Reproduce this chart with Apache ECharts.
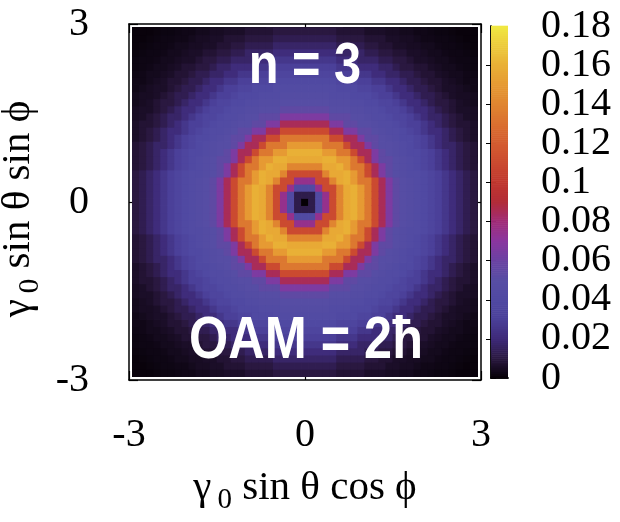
<!DOCTYPE html>
<html>
<head>
<meta charset="utf-8">
<script src="https://cdn.jsdelivr.net/npm/echarts@6/dist/echarts.min.js"></script>
<style>
  html, body { margin: 0; padding: 0; background: #ffffff; }
  #chart { width: 620px; height: 522px; }
</style>
</head>
<body>
<div id="chart"></div>
<script>
// Intensity per ring of cells, counted outward from the centre cell (ring 0).
const radialProfile = [
  0.000, 0.012, 0.042, 0.075, 0.110, 0.140, 0.157, 0.160, 0.150, 0.134,
  0.110, 0.085, 0.066, 0.054, 0.048, 0.045, 0.043, 0.040, 0.036, 0.031,
  0.026, 0.021, 0.017, 0.013, 0.010, 0.008, 0.006, 0.005, 0.004, 0.003,
  0.0025, 0.002, 0.0015, 0.001, 0.001, 0.0008, 0.0005
];
// Sample grid along each axis: -3 … 3 in steps of 0.12 (51 points).
const gridMin = -3;
const gridMax = 3;
const gridStep = 0.12;
const axisTicks = [-3, 0, 3];
const colorbarTicks = [0, 0.02, 0.04, 0.06, 0.08, 0.1, 0.12, 0.14, 0.16, 0.18];
// Palette, evenly spaced from 0 to 0.18.
const paletteColors = [
  '#050005', '#2a1840', '#3e2a78', '#4a3f98', '#5049a2', '#574ea4',
  '#6a42a2', '#8a36a0', '#a02c78', '#b22c38', '#c0372f', '#cb4a30',
  '#d45c30', '#da7030', '#e08530', '#e69a33', '#e9b036', '#edcb3c', '#f0e842'
];

const nPts = Math.round((gridMax - gridMin) / gridStep) + 1;
const centreIdx = (nPts - 1) / 2;
const heatData = [];
for (let i = 0; i < nPts; i++) {
  for (let j = 0; j < nPts; j++) {
    const ring = Math.round(Math.hypot(i - centreIdx, j - centreIdx));
    const v = radialProfile[Math.min(ring, radialProfile.length - 1)];
    heatData.push([gridMin + i * gridStep, gridMin + j * gridStep, v]);
  }
}

// Colour-scale strip: thin slices over the full value range.
const cbMin = colorbarTicks[0];
const cbMax = colorbarTicks[colorbarTicks.length - 1];
const cbInterval = colorbarTicks[1] - colorbarTicks[0];
const cbSlices = 180;
const cbStep = (cbMax - cbMin) / cbSlices;
const colorbarData = [];
for (let k = 0; k < cbSlices; k++) {
  const v = cbMin + (k + 0.5) * cbStep;
  colorbarData.push([0.5, v, v]);
}

const serif = 'Liberation Serif, Times New Roman, DejaVu Serif, serif';
const inset = 3;

function heatCell(params, api) {
  const x = api.value(0), y = api.value(1), h = gridStep / 2;
  const p0 = api.coord([x - h, y + h]);
  const p1 = api.coord([x + h, y - h]);
  const cs = params.coordSys;
  const rect = echarts.graphic.clipRectByRect(
    { x: p0[0] - 0.4, y: p0[1] - 0.4, width: p1[0] - p0[0] + 0.8, height: p1[1] - p0[1] + 0.8 },
    { x: cs.x + inset, y: cs.y + inset, width: cs.width - 2 * inset, height: cs.height - 2 * inset }
  );
  if (!rect) return;
  return { type: 'rect', shape: rect, style: { fill: api.visual('color') } };
}

function barSlice(params, api) {
  const v = api.value(1);
  const p0 = api.coord([0, v + cbStep / 2]);
  const p1 = api.coord([1, v - cbStep / 2]);
  return {
    type: 'rect',
    shape: { x: p0[0], y: p0[1] - 0.3, width: p1[0] - p0[0], height: p1[1] - p0[1] + 0.6 },
    style: { fill: api.visual('color') }
  };
}

const frameLine = { show: true, onZero: false, lineStyle: { color: '#000', width: 1.5 } };
const frameTick = { show: true, inside: true, length: 9, lineStyle: { color: '#000', width: 1.2 } };
const subRich = { s: { fontFamily: serif, fontSize: 29, padding: [24, 0, 0, 6], color: '#000' } };
const tickFont = { fontFamily: serif, fontSize: 40, color: '#000', lineHeight: 30 };
const cbLine = { show: true, lineStyle: { color: '#000', width: 1.5 } };
const cbTick = { show: true, inside: true, length: 5, lineStyle: { color: '#000', width: 1 } };

const option = {
  backgroundColor: '#ffffff',
  animation: false,
  grid: [
    { left: 129, top: 24, width: 352, height: 356, outerBoundsMode: 'none', containLabel: false },
    { left: 491, top: 26, width: 17, height: 352, outerBoundsMode: 'none', containLabel: false }
  ],
  visualMap: {
    type: 'continuous', show: false, min: cbMin, max: cbMax, dimension: 2,
    seriesIndex: [0, 1], inRange: { color: paletteColors }
  },
  xAxis: [
    {
      gridIndex: 0, type: 'value', position: 'bottom', min: gridMin, max: gridMax, interval: 3,
      axisLine: frameLine, splitLine: { show: false }, axisTick: frameTick,
      axisLabel: Object.assign({ margin: 40, showMinLabel: true, showMaxLabel: true }, tickFont),
      name: 'γ{s|0} sin θ cos ϕ', nameLocation: 'middle', nameGap: 82,
      nameTextStyle: { fontFamily: serif, fontSize: 41, color: '#000', rich: subRich }
    },
    {
      gridIndex: 0, type: 'value', position: 'top', min: gridMin, max: gridMax, interval: 3,
      axisLine: frameLine, splitLine: { show: false }, axisTick: frameTick,
      axisLabel: { show: false }
    },
    {
      gridIndex: 1, type: 'value', position: 'bottom', min: 0, max: 1,
      axisLine: cbLine, axisTick: { show: false }, axisLabel: { show: false }, splitLine: { show: false }
    },
    {
      gridIndex: 1, type: 'value', position: 'top', min: 0, max: 1,
      axisLine: cbLine, axisTick: { show: false }, axisLabel: { show: false }, splitLine: { show: false }
    }
  ],
  yAxis: [
    {
      gridIndex: 0, type: 'value', position: 'left', min: gridMin, max: gridMax, interval: 3,
      axisLine: frameLine, splitLine: { show: false }, axisTick: frameTick,
      axisLabel: Object.assign({ margin: 40, showMinLabel: true, showMaxLabel: true }, tickFont),
      name: 'γ{s|0} sin θ sin ϕ', nameLocation: 'middle', nameGap: 80,
      nameTextStyle: { fontFamily: serif, fontSize: 41, color: '#000', rich: subRich, padding: [0, 14, 0, 0] }
    },
    {
      gridIndex: 0, type: 'value', position: 'right', min: gridMin, max: gridMax, interval: 3,
      axisLine: frameLine, splitLine: { show: false }, axisTick: frameTick,
      axisLabel: { show: false }
    },
    // colour scale: inner tick labels (0.02 … 0.16)
    {
      gridIndex: 1, type: 'value', position: 'right', min: cbMin, max: cbMax, interval: cbInterval,
      axisLine: cbLine, splitLine: { show: false }, axisTick: cbTick,
      axisLabel: Object.assign({ margin: 33, showMinLabel: false, showMaxLabel: false }, tickFont)
    },
    {
      gridIndex: 1, type: 'value', position: 'left', min: cbMin, max: cbMax, interval: cbInterval,
      axisLine: cbLine, splitLine: { show: false }, axisTick: cbTick,
      axisLabel: { show: false }
    },
    // colour scale: end labels (0 and 0.18)
    {
      gridIndex: 1, type: 'value', position: 'right', min: cbMin, max: cbMax, interval: cbMax - cbMin,
      axisLine: { show: false }, splitLine: { show: false }, axisTick: { show: false },
      axisLabel: Object.assign({ margin: 33, showMinLabel: true, showMaxLabel: true }, tickFont)
    }
  ],
  series: [
    {
      type: 'custom', name: 'intensity', coordinateSystem: 'cartesian2d',
      xAxisIndex: 0, yAxisIndex: 0, renderItem: heatCell, data: heatData, z: 1, silent: true
    },
    {
      type: 'custom', name: 'scale', coordinateSystem: 'cartesian2d',
      xAxisIndex: 2, yAxisIndex: 2, renderItem: barSlice, data: colorbarData, z: 1, silent: true
    }
  ],
  graphic: [
    {
      type: 'text', x: 305, y: 67, scaleX: 0.84, z: 100,
      style: {
        text: 'n = 3', x: 0, y: 0, align: 'center', verticalAlign: 'middle',
        font: 'bold 58px "Liberation Sans", Arial, sans-serif', fill: '#ffffff'
      }
    },
    {
      type: 'text', x: 306, y: 341, scaleX: 0.84, z: 100,
      style: {
        text: 'OAM = 2ħ', x: 0, y: 0, align: 'center', verticalAlign: 'middle',
        font: 'bold 60px "Liberation Sans", Arial, sans-serif', fill: '#ffffff'
      }
    }
  ]
};

const chart = echarts.init(document.getElementById('chart'), null, { renderer: 'canvas' });
chart.setOption(option);
</script>
</body>
</html>
